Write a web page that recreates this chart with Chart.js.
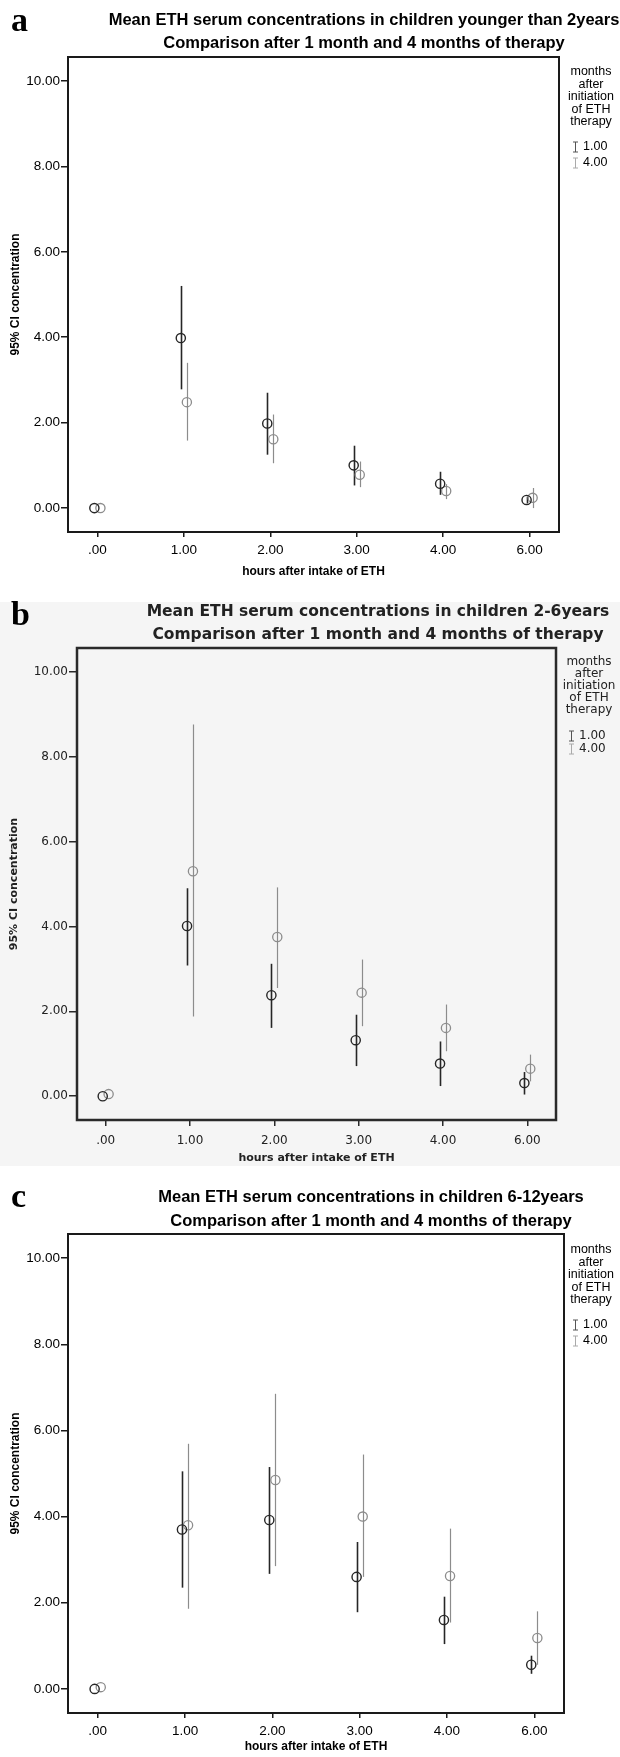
<!DOCTYPE html>
<html>
<head>
<meta charset="utf-8">
<script src="https://cdn.jsdelivr.net/npm/chart.js@4"></script>
<style>
  html, body { margin: 0; padding: 0; background: #fff; }
  #page { position: relative; width: 620px; height: 1757px; overflow: hidden; }
  canvas { position: absolute; left: 0; }
</style>
</head>
<body>
<div id="page">
  <canvas id="chartA" width="620" height="585" style="top:0px"></canvas>
  <canvas id="chartB" width="620" height="585" style="top:585px"></canvas>
  <canvas id="chartC" width="620" height="587" style="top:1170px"></canvas>
</div>
<script>
// categories on the x axis (hours after intake of ETH)
const hourLabels = ['.00', '1.00', '2.00', '3.00', '4.00', '6.00'];
const yTicks = [0, 2, 4, 6, 8, 10];
const legendHeading = ['months', 'after', 'initiation', 'of ETH', 'therapy'];
const seriesNames = ['1.00', '4.00'];

// panel a - children younger than 2 years
const aMean1 = [0, 3.98, 1.98, 1.00, 0.57, 0.19];
const aLow1  = [0, 2.78, 1.25, 0.53, 0.31, 0.11];
const aHigh1 = [0, 5.20, 2.70, 1.46, 0.85, 0.27];
const aMean4 = [0, 2.48, 1.61, 0.78, 0.40, 0.24];
const aLow4  = [0, 1.58, 1.05, 0.49, 0.21, 0.00];
const aHigh4 = [0, 3.40, 2.19, 1.09, 0.56, 0.47];

// panel b - children 2-6 years
const bMean1 = [0, 4.01, 2.38, 1.32, 0.77, 0.31];
const bLow1  = [0, 3.08, 1.61, 0.71, 0.24, 0.04];
const bHigh1 = [0, 4.90, 3.12, 1.92, 1.29, 0.57];
const bMean4 = [0.05, 5.30, 3.75, 2.44, 1.61, 0.65];
const bLow4  = [0.05, 1.88, 2.55, 1.65, 1.06, 0.35];
const bHigh4 = [0.05, 8.76, 4.92, 3.22, 2.16, 0.98];

// panel c - children 6-12 years
const cMean1 = [0, 3.70, 3.92, 2.60, 1.60, 0.56];
const cLow1  = [0, 2.35, 2.67, 1.78, 1.04, 0.35];
const cHigh1 = [0, 5.05, 5.15, 3.41, 2.14, 0.77];
const cMean4 = [0.04, 3.80, 4.85, 4.00, 2.62, 1.18];
const cLow4  = [0.04, 1.86, 2.85, 2.60, 1.54, 0.56];
const cHigh4 = [0.04, 5.69, 6.85, 5.44, 3.72, 1.80];

// vertical CI lines, drawn from the dataset's low/high arrays through the scales
const errorBars = {
  id: 'errorBars',
  beforeDatasetsDraw(chart) {
    const { ctx, scales: { x, y } } = chart;
    chart.data.datasets.forEach(ds => {
      ctx.save();
      ctx.strokeStyle = ds.borderColor;
      ctx.lineWidth = ds.ciWidth;
      ds.data.forEach((pt, i) => {
        const px = Math.round(x.getPixelForValue(pt.x)) + 0.5;
        ctx.beginPath();
        ctx.moveTo(px, y.getPixelForValue(ds.ciLow[i]));
        ctx.lineTo(px, y.getPixelForValue(ds.ciHigh[i]));
        ctx.stroke();
      });
      ctx.restore();
    });
  }
};

// panel letter, two-line title, frame and the SPSS style legend
const panelText = {
  id: 'panelText',
  beforeDraw(chart, args, o) {
    if (!o.background) return;
    const ctx = chart.ctx;
    ctx.save();
    ctx.fillStyle = o.background;
    ctx.fillRect(0, o.bgTop, chart.width, o.bgBottom - o.bgTop);
    ctx.restore();
  },
  afterDraw(chart, args, o) {
    const ctx = chart.ctx;
    const a = chart.chartArea;
    ctx.save();
    ctx.strokeStyle = o.frameColor;
    ctx.lineWidth = o.frameWidth;
    ctx.strokeRect(a.left, a.top, a.right - a.left, a.bottom - a.top);

    ctx.fillStyle = '#000';
    ctx.textBaseline = 'alphabetic';
    ctx.textAlign = 'left';
    ctx.font = 'bold 34px "Liberation Serif"';
    ctx.fillText(o.letter, 11, o.letterY);

    ctx.fillStyle = o.textColor;
    ctx.textBaseline = 'middle';
    ctx.textAlign = 'center';
    ctx.font = o.titleFont;
    o.title.forEach((t, i) => ctx.fillText(t, o.titleX, o.titleY[i]));

    ctx.font = o.legendFont;
    legendHeading.forEach((t, i) => ctx.fillText(t, o.legendX, o.legendY[i]));
    ctx.textAlign = 'left';
    seriesNames.forEach((t, i) => {
      const yy = o.itemY[i];
      const sx = o.symbolX;
      ctx.strokeStyle = o.symbolColors[i];
      ctx.lineWidth = 1;
      ctx.beginPath();
      ctx.moveTo(sx + 0.5, yy - 5); ctx.lineTo(sx + 0.5, yy + 5);
      ctx.moveTo(sx - 2, yy - 5); ctx.lineTo(sx + 3, yy - 5);
      ctx.moveTo(sx - 2, yy + 5); ctx.lineTo(sx + 3, yy + 5);
      ctx.stroke();
      ctx.fillStyle = o.textColor;
      ctx.fillText(t, sx + 8, yy);
    });
    ctx.restore();
  }
};

function makeChart(id, p, mean1, low1, high1, mean4, low4, high4) {
  const tickFont = { family: p.family, size: p.tickSize };
  const titleFont = { family: p.family, size: p.axisTitleSize, weight: 'bold' };
  const ctx = document.getElementById(id).getContext('2d');
  return new Chart(ctx, {
    type: 'scatter',
    data: {
      datasets: [
        {
          label: seriesNames[0],
          data: mean1.map((v, i) => ({ x: i - 0.035, y: v })),
          ciLow: low1, ciHigh: high1, ciWidth: 1.6,
          borderColor: '#262626', backgroundColor: 'rgba(0,0,0,0)',
          pointRadius: 4.6, pointBorderWidth: 1.4, pointHoverRadius: 4.6
        },
        {
          label: seriesNames[1],
          data: mean4.map((v, i) => ({ x: i + 0.035, y: v })),
          ciLow: low4, ciHigh: high4, ciWidth: 1.2,
          borderColor: '#8c8c8c', backgroundColor: 'rgba(0,0,0,0)',
          pointRadius: 4.6, pointBorderWidth: 1.3, pointHoverRadius: 4.6
        }
      ]
    },
    options: {
      responsive: false,
      animation: false,
      devicePixelRatio: 1,
      layout: { padding: { top: p.plotTop, right: p.canvasW - p.plotRight, left: 0, bottom: 0 } },
      plugins: {
        legend: { display: false },
        tooltip: { enabled: false },
        panelText: p.text
      },
      scales: {
        x: {
          type: 'linear', min: -0.34, max: 5.34,
          afterBuildTicks: s => { s.ticks = hourLabels.map((_, i) => ({ value: i })); },
          afterFit: s => { s.height = p.canvasH - p.plotBottom; },
          ticks: {
            callback: v => hourLabels[v], font: tickFont, color: p.text.textColor,
            padding: p.xTickPad, maxRotation: 0, autoSkip: false
          },
          grid: { drawOnChartArea: false, drawTicks: true, tickLength: p.xTickLen, color: p.text.frameColor, lineWidth: 1.5 },
          border: { display: false },
          title: { display: true, text: 'hours after intake of ETH', font: titleFont, color: p.text.textColor, padding: { top: 0, bottom: p.xTitlePad } }
        },
        y: {
          min: -0.56, max: 10.56,
          afterBuildTicks: s => { s.ticks = yTicks.map(v => ({ value: v })); },
          afterFit: s => { s.width = p.plotLeft; },
          ticks: { callback: v => v.toFixed(2), font: tickFont, color: p.text.textColor, padding: 1 },
          grid: { drawOnChartArea: false, drawTicks: true, tickLength: p.yTickLen, color: p.text.frameColor, lineWidth: 1.5 },
          border: { display: false },
          title: { display: true, text: '95% CI concentration', font: titleFont, color: p.text.textColor, padding: { top: 8, bottom: 0 } }
        }
      }
    },
    plugins: [errorBars, panelText]
  });
}

const arial = '"Liberation Sans", Arial, sans-serif';
const lucida = '"DejaVu Sans", sans-serif';

makeChart('chartA', {
  canvasW: 620, canvasH: 585, plotLeft: 68, plotTop: 57, plotRight: 559, plotBottom: 532,
  family: arial, tickSize: 13.5, axisTitleSize: 12, xTickLen: 5, xTickPad: 5, yTickLen: 7, xTitlePad: 6,
  text: {
    letter: 'a', letterY: 31,
    title: ['Mean ETH serum concentrations in children younger than 2years',
            'Comparison after 1 month and 4 months of therapy'],
    titleX: 364, titleY: [20, 43], titleFont: 'bold 16.5px ' + arial,
    legendFont: '12.5px ' + arial, legendX: 591, legendY: [72, 85, 97, 110, 122],
    itemY: [147, 163], symbolX: 575, symbolColors: ['#555', '#aaa'],
    textColor: '#000', frameColor: '#1a1a1a', frameWidth: 2
  }
}, aMean1, aLow1, aHigh1, aMean4, aLow4, aHigh4);

makeChart('chartB', {
  canvasW: 620, canvasH: 585, plotLeft: 77, plotTop: 63, plotRight: 556, plotBottom: 535,
  family: lucida, tickSize: 12, axisTitleSize: 11, xTickLen: 6, xTickPad: 8, yTickLen: 8, xTitlePad: 5,
  text: {
    letter: 'b', letterY: 40,
    title: ['Mean ETH serum concentrations in children 2-6years',
            'Comparison after 1 month and 4 months of therapy'],
    titleX: 378, titleY: [27, 50], titleFont: 'bold 15.5px ' + lucida,
    legendFont: '12px ' + lucida, legendX: 589, legendY: [77, 89, 101, 113, 125],
    itemY: [151, 164], symbolX: 571, symbolColors: ['#555', '#aaa'],
    textColor: '#222', frameColor: '#2a2a2a', frameWidth: 2.5,
    background: '#f5f5f5', bgTop: 17, bgBottom: 581
  }
}, bMean1, bLow1, bHigh1, bMean4, bLow4, bHigh4);

makeChart('chartC', {
  canvasW: 620, canvasH: 587, plotLeft: 68, plotTop: 64, plotRight: 564, plotBottom: 543,
  family: arial, tickSize: 13.5, axisTitleSize: 12, xTickLen: 5, xTickPad: 5, yTickLen: 7, xTitlePad: 3,
  text: {
    letter: 'c', letterY: 37,
    title: ['Mean ETH serum concentrations in children 6-12years',
            'Comparison after 1 month and 4 months of therapy'],
    titleX: 371, titleY: [27, 51], titleFont: 'bold 16.5px ' + arial,
    legendFont: '12.5px ' + arial, legendX: 591, legendY: [80, 93, 105, 118, 130],
    itemY: [155, 171], symbolX: 575, symbolColors: ['#555', '#aaa'],
    textColor: '#000', frameColor: '#1a1a1a', frameWidth: 2
  }
}, cMean1, cLow1, cHigh1, cMean4, cLow4, cHigh4);
</script>
</body>
</html>
